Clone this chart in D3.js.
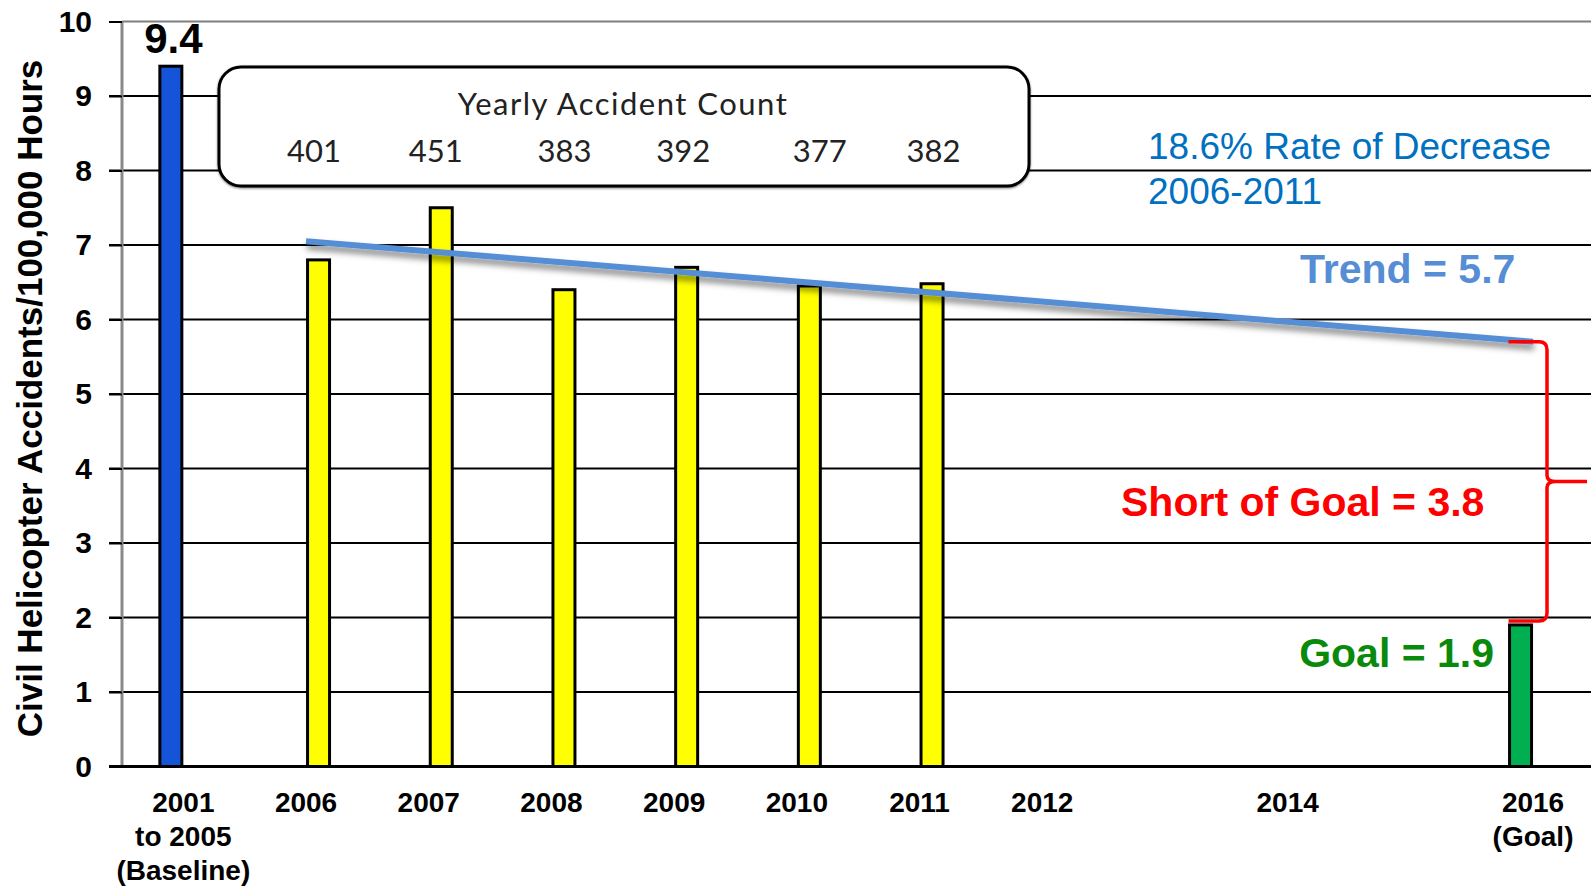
<!DOCTYPE html>
<html>
<head>
<meta charset="utf-8">
<script src="https://cdn.jsdelivr.net/npm/d3@7"></script>
<style>
  body { margin: 0; background: #fff; }
  svg { display: block; font-family: "Liberation Sans", Arial, sans-serif; }
</style>
</head>
<body>
<div id="chart"></div>
<script>
// categories on the x axis (2013 and 2015 have no label)
var categories = ["base", "2006", "2007", "2008", "2009", "2010", "2011", "2012", "2013", "2014", "2015", "2016"];
var tickLabels = [["2001", "to 2005", "(Baseline)"], ["2006"], ["2007"], ["2008"], ["2009"], ["2010"], ["2011"], ["2012"], [""], ["2014"], [""], ["2016", "(Goal)"]];
var yTicks = [0, 1, 2, 3, 4, 5, 6, 7, 8, 9, 10];

// rates per 100,000 hours
var baselineValue = 9.4;
var yearlyYears = ["2006", "2007", "2008", "2009", "2010", "2011"];
var yearlyRates = [6.8, 7.5, 6.4, 6.7, 6.45, 6.48];
var accidentCounts = [401, 451, 383, 392, 377, 382];
var goalValue = 1.9;
var trendYears = ["2006", "2016"];
var trendValues = [7.05, 5.7];

var svgWidth = 1591;
var svgHeight = 887;
var plotLeft = 122;
var plotBottom = 766.5;
var plotTop = 21.5;
var step = 122.7;
// the counts in the box are not quite centred over their bars
var countNudge = [1, 0, 6, 2, 16, 7];

var svg = d3.select('#chart')
  .append('svg')
  .attr('width', svgWidth)
  .attr('height', svgHeight);

var defs = svg.append('defs');
defs.append('filter').attr('id', 'shadow')
  .attr('x', '-5%').attr('y', '-50%').attr('width', '110%').attr('height', '300%')
  .append('feDropShadow')
  .attr('dx', 1).attr('dy', 5).attr('stdDeviation', 3)
  .attr('flood-color', '#000').attr('flood-opacity', 0.5);
defs.append('filter').attr('id', 'boxShadow')
  .append('feDropShadow')
  .attr('dx', 0).attr('dy', 1).attr('stdDeviation', 1.2)
  .attr('flood-color', '#000').attr('flood-opacity', 0.5);

var x = d3.scaleBand()
  .domain(categories)
  .range([plotLeft, plotLeft + categories.length * step]);

var y = d3.scaleLinear()
  .domain([0, 10])
  .range([plotBottom, plotTop]);

function cx(cat) { return x(cat) + x.bandwidth() / 2; }

// gridlines
svg.append('g').selectAll('line')
  .data(yTicks.filter(d => d > 0 && d < 10))
  .enter().append('line')
  .attr('x1', 109).attr('x2', svgWidth)
  .attr('y1', d => y(d)).attr('y2', d => y(d))
  .attr('stroke', '#000').attr('stroke-width', 2);

// grey frame: left and top
svg.append('line')
  .attr('x1', plotLeft).attr('x2', svgWidth)
  .attr('y1', y(10)).attr('y2', y(10))
  .attr('stroke', '#7f7f7f').attr('stroke-width', 2);
svg.append('line')
  .attr('x1', plotLeft).attr('x2', plotLeft)
  .attr('y1', y(10)).attr('y2', y(0))
  .attr('stroke', '#8a8a8a').attr('stroke-width', 3);

// y axis ticks and labels
var leftAxis = d3.axisLeft(y).tickValues(yTicks).tickSize(13).tickPadding(17);
var yAxisG = svg.append('g')
  .attr('transform', `translate(${plotLeft}, 0)`)
  .call(leftAxis);
yAxisG.select('.domain').remove();
yAxisG.selectAll('line').attr('stroke', '#000').attr('stroke-width', 2);
yAxisG.selectAll('text')
  .attr('font-family', '"Liberation Sans", Arial, sans-serif')
  .attr('font-size', 30).attr('font-weight', 'bold').attr('fill', '#000');

// accident count box
var box = svg.append('g');
box.append('rect')
  .attr('x', 219).attr('y', 67).attr('width', 810).attr('height', 119)
  .attr('rx', 22).attr('ry', 22)
  .attr('fill', '#fff').attr('stroke', '#000').attr('stroke-width', 3)
  .attr('filter', 'url(#boxShadow)');
box.append('text')
  .attr('x', 623).attr('y', 115)
  .attr('text-anchor', 'middle')
  .attr('font-family', 'Lato, "Open Sans", sans-serif')
  .attr('font-size', 31).attr('letter-spacing', 1.5).attr('fill', '#222')
  .text('Yearly Accident Count');
box.selectAll('.count')
  .data(accidentCounts)
  .enter().append('text')
  .attr('class', 'count')
  .attr('x', (d, i) => cx(yearlyYears[i]) + 7 + countNudge[i])
  .attr('y', 162)
  .attr('text-anchor', 'middle')
  .attr('font-family', 'Lato, "Open Sans", sans-serif')
  .attr('font-size', 31).attr('fill', '#222')
  .text(d => d);

// bars
var barW = 22;
svg.append('rect')
  .attr('x', cx('base') - 12.5 - barW / 2)
  .attr('y', y(baselineValue))
  .attr('width', barW)
  .attr('height', y(0) - y(baselineValue))
  .attr('fill', '#1553d9').attr('stroke', '#000').attr('stroke-width', 3);

svg.append('g').selectAll('rect')
  .data(yearlyRates)
  .enter().append('rect')
  .attr('x', (d, i) => cx(yearlyYears[i]) + 12.5 - barW / 2)
  .attr('y', d => y(d))
  .attr('width', barW)
  .attr('height', d => y(0) - y(d))
  .attr('fill', '#ffff00').attr('stroke', '#000').attr('stroke-width', 3);

svg.append('rect')
  .attr('x', cx('2016') - 12.5 - barW / 2)
  .attr('y', y(goalValue))
  .attr('width', barW)
  .attr('height', y(0) - y(goalValue))
  .attr('fill', '#00b050').attr('stroke', '#000').attr('stroke-width', 3);

// baseline value label
svg.append('text')
  .attr('x', cx('base') - 10)
  .attr('y', y(baselineValue) - 13)
  .attr('text-anchor', 'middle')
  .attr('font-size', 42).attr('font-weight', 'bold')
  .text(baselineValue);

// trend line
var line = d3.line()
  .x((d, i) => cx(trendYears[i]))
  .y(d => y(d));
svg.append('path')
  .datum(trendValues)
  .attr('d', line)
  .attr('fill', 'none')
  .attr('stroke', '#558ed5').attr('stroke-width', 6)
  .attr('filter', 'url(#shadow)');

// red brace between trend and goal
var bx = 1547;
var y0 = y(trendValues[1]);
var y1 = y(goalValue) - 4;
var ym = (y0 + y1) / 2;
var xl = cx('2016') - 12.5 - barW / 2 - 1;
svg.append('path')
  .attr('d', `M${xl},${y0} L${bx - 8},${y0} Q${bx},${y0} ${bx},${y0 + 8} L${bx},${ym - 6} Q${bx},${ym} ${bx + 9},${ym} L${bx + 40},${ym}` +
    ` M${bx + 9},${ym} Q${bx},${ym} ${bx},${ym + 6} L${bx},${y1 - 8} Q${bx},${y1} ${bx - 8},${y1} L${xl},${y1}`)
  .attr('fill', 'none').attr('stroke', '#ff0000').attr('stroke-width', 3.5);

// annotations
svg.append('text')
  .attr('x', 1148).attr('y', 159)
  .attr('font-size', 37).attr('fill', '#0070c0')
  .text('18.6% Rate of Decrease');
svg.append('text')
  .attr('x', 1148).attr('y', 204)
  .attr('font-size', 37).attr('fill', '#0070c0')
  .text('2006-2011');
svg.append('text')
  .attr('x', 1300).attr('y', 283)
  .attr('font-size', 41).attr('font-weight', 'bold').attr('fill', '#558ed5')
  .text('Trend = 5.7');
svg.append('text')
  .attr('x', 1121).attr('y', 516)
  .attr('font-size', 41).attr('font-weight', 'bold').attr('fill', '#ff0000')
  .text('Short of Goal = 3.8');
svg.append('text')
  .attr('x', 1494).attr('y', 667)
  .attr('text-anchor', 'end')
  .attr('font-size', 41).attr('font-weight', 'bold').attr('fill', '#0a8a0a')
  .text('Goal = 1.9');

// x axis
svg.append('line')
  .attr('x1', 109).attr('x2', svgWidth)
  .attr('y1', y(0)).attr('y2', y(0))
  .attr('stroke', '#000').attr('stroke-width', 3);

var xLabels = svg.append('g').selectAll('text')
  .data(categories)
  .enter().append('text')
  .attr('x', d => cx(d))
  .attr('y', y(0) + 45.5)
  .attr('text-anchor', 'middle')
  .attr('font-size', 28).attr('font-weight', 'bold');
xLabels.selectAll('tspan')
  .data((d, i) => tickLabels[i])
  .enter().append('tspan')
  .attr('x', function() { return this.parentNode.getAttribute('x'); })
  .attr('dy', (d, i) => i === 0 ? 0 : 34)
  .text(d => d);

// y axis title
svg.append('text')
  .attr('transform', 'translate(42, 398.5) rotate(-90)')
  .attr('text-anchor', 'middle')
  .attr('font-size', 35).attr('font-weight', 'bold')
  .text('Civil Helicopter Accidents/100,000 Hours');
</script>
</body>
</html>
